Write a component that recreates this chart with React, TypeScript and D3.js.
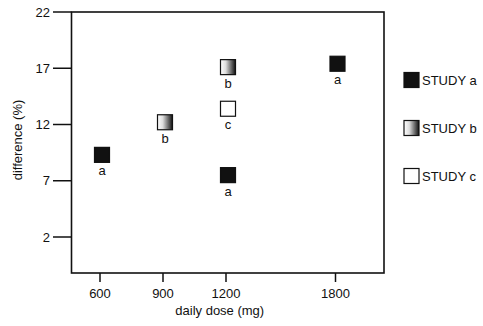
import React from "react";
import * as d3 from "d3";

const yTicks = [2, 7, 12, 17, 22];
const xTicks = [600, 900, 1200, 1800];
const studies = ["a", "b", "c"];
const legendLabels = ["STUDY a", "STUDY b", "STUDY c"];
const doses = [600, 900, 1200, 1200, 1200, 1800];
const diffs = [9.3, 12.2, 17.1, 13.4, 7.5, 17.4];
const pointStudy = ["a", "b", "b", "c", "a", "a"];

export default function App() {
  const W = 483, H = 326;
  const left = 71.5, right = 384, top = 12, bottom = 273;
  const y = d3.scaleLinear().domain([-1.2, 22]).range([bottom, top]);
  // non-uniform axis spacing as in original
  const x = d3
    .scaleLinear()
    .domain([467, 600, 900, 1200, 1800, 2068])
    .range([left, 100, 163, 226, 335.5, right]);
  const sq = 15;
  const fs = 13;
  const font = "Liberation Sans, Arial, sans-serif";
  const fillFor = (s: string) =>
    s === "a" ? "#111" : s === "b" ? "url(#gradB)" : "#fff";

  return (
    <svg
      width={W}
      height={H}
      style={{ position: "absolute", left: 0, top: 0, background: "#fff" }}
      fontFamily={font}
    >
      <defs>
        <linearGradient id="gradB" x1="0" x2="1" y1="0" y2="0">
          <stop offset="0" stopColor="#fff" />
          <stop offset="0.35" stopColor="#ddd" />
          <stop offset="1" stopColor="#111" />
        </linearGradient>
      </defs>
      <rect
        x={left}
        y={top}
        width={right - left}
        height={bottom - top}
        fill="none"
        stroke="#111"
        strokeWidth={1.6}
      />
      {yTicks.map((t) => (
        <g key={"y" + t}>
          <line x1={53} x2={left} y1={y(t)} y2={y(t)} stroke="#111" strokeWidth={1.5} />
          <text x={50} y={y(t)} dy="0.35em" textAnchor="end" fontSize={fs} fill="#111">
            {t}
          </text>
        </g>
      ))}
      {xTicks.map((t) => (
        <g key={"x" + t}>
          <line x1={x(t)} x2={x(t)} y1={bottom} y2={282} stroke="#111" strokeWidth={1.5} />
          <text x={x(t)} y={297.5} textAnchor="middle" fontSize={fs} fill="#111">
            {t}
          </text>
        </g>
      ))}
      <text x={(left + right) / 2 - 8} y={315} textAnchor="middle" fontSize={fs} fill="#111">
        daily dose (mg)
      </text>
      <text
        transform={`translate(21.5,140) rotate(-90)`}
        textAnchor="middle"
        fontSize={fs}
        fill="#111"
      >
        difference (%)
      </text>
      {doses.map((d, i) => {
        const cx = x(d) + 2;
        const cy = y(diffs[i]);
        const s = pointStudy[i];
        return (
          <g key={"p" + i}>
            <rect
              x={cx - sq / 2}
              y={cy - sq / 2}
              width={sq}
              height={sq}
              fill={fillFor(s)}
              stroke="#111"
              strokeWidth={1.2}
            />
            <text x={cx} y={cy + sq / 2 + 13} textAnchor="middle" fontSize={fs} fill="#111">
              {s}
            </text>
          </g>
        );
      })}
      {studies.map((s, i) => {
        const cy = 80 + i * 48;
        return (
          <g key={"l" + s}>
            <rect
              x={404}
              y={cy - 7.5}
              width={15}
              height={15}
              fill={fillFor(s)}
              stroke="#111"
              strokeWidth={1.2}
            />
            <text x={422} y={cy} dy="0.35em" fontSize={fs} fill="#111">
              {legendLabels[i]}
            </text>
          </g>
        );
      })}
    </svg>
  );
}
